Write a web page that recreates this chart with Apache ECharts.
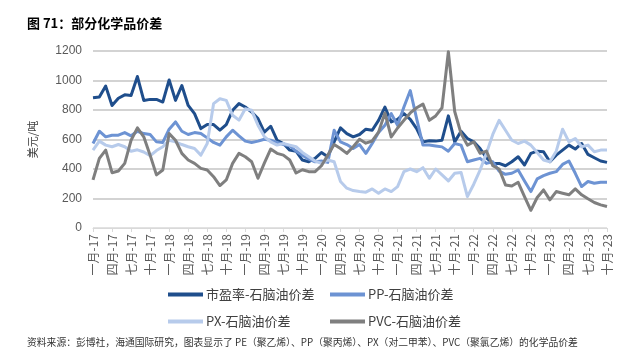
<!DOCTYPE html>
<html>
<head>
<meta charset="utf-8">
<script src="https://cdn.jsdelivr.net/npm/echarts@6/dist/echarts.min.js"></script>
<style>
html,body{margin:0;padding:0;background:#fff;}
#chart{width:634px;height:358px;}
</style>
</head>
<body>
<div id="chart"></div>
<script>
// ---- data ----
const monthNames = ["一月","二月","三月","四月","五月","六月","七月","八月","九月","十月","十一月","十二月"];
const years = ["17","18","19","20","21","22","23"];
const lastMonthIndex = 9; // data ends 十月-23
const categories = [];
years.forEach(function (y, yi) {
  monthNames.forEach(function (m, mi) {
    if (yi === years.length - 1 && mi > lastMonthIndex) return;
    categories.push(m + "-" + y);
  });
});

const seriesNames = ["市盈率-石脑油价差", "PP-石脑油价差", "PX-石脑油价差", "PVC-石脑油价差"];

const peSpread = [883,888,962,830,880,903,899,1027,865,872,872,854,1004,865,966,831,775,674,701,701,663,701,798,843,820,786,742,650,690,595,573,528,521,461,449,472,512,483,584,679,640,618,634,670,663,730,820,719,737,775,737,674,584,591,589,595,760,584,656,607,584,539,476,438,438,422,449,483,427,506,521,517,449,494,528,562,535,573,499,476,454,445];
const ppSpread = [573,656,618,629,629,647,625,656,640,634,584,580,670,719,656,634,647,640,611,580,562,618,663,625,589,580,589,602,595,580,566,557,521,494,467,449,454,445,663,584,566,539,566,506,573,647,697,775,697,820,932,742,562,562,556,550,521,573,562,449,461,472,438,449,386,364,371,393,319,247,333,355,371,382,431,454,371,281,315,303,310,310];
const pxSpread = [528,589,562,551,566,551,520,530,515,490,525,551,595,584,566,551,539,494,573,843,876,865,764,731,809,798,697,620,584,562,573,562,551,512,483,454,438,461,449,315,270,254,247,243,265,236,265,247,281,382,400,382,409,337,400,360,319,371,377,213,297,393,506,634,730,663,595,573,589,562,512,461,449,521,670,584,607,551,562,517,528,528];
const pvcSpread = [326,472,528,375,386,438,595,679,618,494,360,393,640,595,506,461,438,404,393,348,288,326,438,506,483,449,337,440,535,506,494,461,373,395,382,382,422,494,566,539,506,551,602,575,590,650,780,617,678,730,780,815,840,730,760,815,1195,790,640,562,584,506,521,422,400,292,285,310,213,120,207,258,191,247,236,225,265,225,198,173,157,146];

const yTicks = [0, 200, 400, 600, 800, 1000, 1200];

const colors = ["#1f4e8c", "#6d93d3", "#b7cbeb", "#7f7f7f"];

// ---- chart ----
const chart = echarts.init(document.getElementById("chart"), null, {renderer: "canvas"});
const cjk = "'Noto Sans CJK SC', 'Noto Sans', sans-serif";
const allData = [peSpread, ppSpread, pxSpread, pvcSpread];

function legendAt(name, left, top) {
  return {
    data: [name], left: left, top: top, padding: 0,
    icon: "rect", itemWidth: 35, itemHeight: 4, itemGap: 0,
    textStyle: {fontSize: 13, color: "#404040", fontFamily: cjk, padding: [0, 0, 0, -2]}
  };
}

chart.setOption({
  animation: false,
  color: colors,
  title: [
    {text: "图 71：部分化学品价差", left: 27, top: 17, padding: 0,
     textStyle: {fontSize: 13, fontWeight: "bold", color: "#000", fontFamily: cjk}},
    {text: "资料来源：彭博社，海通国际研究，图表显示了 PE（聚乙烯）、PP（聚丙烯）、PX（对二甲苯）、PVC（聚氯乙烯）的化学品价差",
     left: 27, top: 337, padding: 0,
     textStyle: {fontSize: 9.8, fontWeight: "normal", color: "#333", fontFamily: cjk}}
  ],
  legend: [
    legendAt(seriesNames[0], 168, 288),
    legendAt(seriesNames[1], 330, 288),
    legendAt(seriesNames[2], 168, 315),
    legendAt(seriesNames[3], 330, 315)
  ],
  grid: {left: 93, right: 27, top: 51, bottom: 130, containLabel: false},
  xAxis: {
    type: "category",
    data: categories,
    boundaryGap: false,
    axisLine: {lineStyle: {color: "#d9d9d9", width: 1}},
    axisTick: {show: true, interval: 2, length: 4, lineStyle: {color: "#d9d9d9"}},
    axisLabel: {interval: 2, rotate: 90, fontSize: 12, color: "#595959", margin: 6, fontFamily: cjk}
  },
  yAxis: {
    type: "value",
    min: yTicks[0], max: yTicks[yTicks.length - 1], interval: yTicks[1] - yTicks[0],
    name: "美元/吨", nameLocation: "middle", nameGap: 55, nameRotate: 90,
    nameTextStyle: {fontSize: 11, color: "#404040", fontFamily: cjk},
    axisLine: {show: false}, axisTick: {show: false},
    axisLabel: {fontSize: 12, color: "#595959", margin: 11, fontFamily: "'Liberation Sans', Arial, sans-serif",
                formatter: function (v) { return String(v); }},
    splitLine: {lineStyle: {color: ["#d9d9d9", "#c4c4c4", "#c4c4c4", "#c4c4c4", "#c4c4c4", "#c4c4c4", "#c4c4c4"], width: 1.5}}
  },
  series: seriesNames.map(function (n, i) {
    return {
      name: n, type: "line", data: allData[i], showSymbol: false, symbol: "none",
      lineStyle: {width: 3, color: colors[i], join: "round"},
      itemStyle: {color: colors[i]}
    };
  })
});
</script>
</body>
</html>
